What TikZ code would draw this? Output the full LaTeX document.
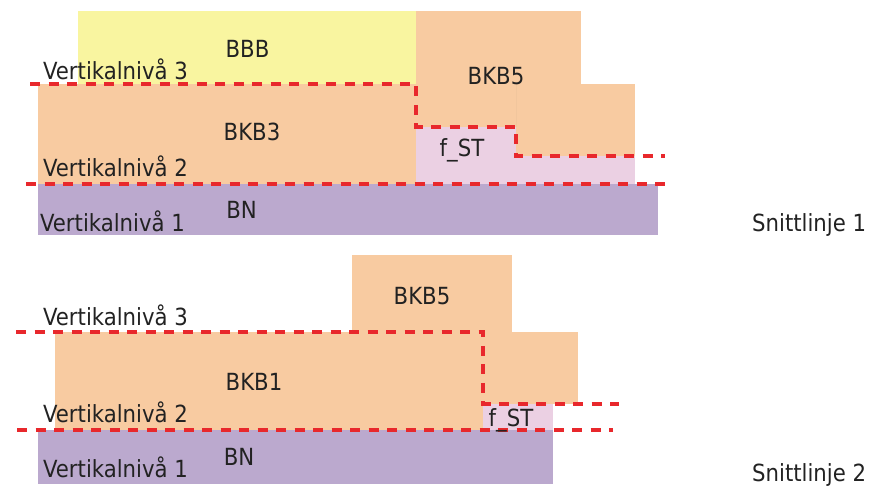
\documentclass[tikz,border=0pt]{standalone}
\usepackage{fontspec}
\setmainfont{DejaVu Sans Condensed}
\definecolor{fillyellow}{RGB}{249,245,160}
\definecolor{fillorange}{RGB}{248,203,161}
\definecolor{fillpurple}{RGB}{187,169,206}
\definecolor{fillpink}{RGB}{235,208,227}
\definecolor{cutred}{RGB}{232,40,44}
\definecolor{txtgray}{RGB}{34,34,34}
\begin{document}
\begin{tikzpicture}[x=1pt,y=-1pt,
  lbl/.style={inner sep=0pt, text=txtgray, font=\fontsize{23.6}{28}\selectfont},
  lvl/.style={lbl, anchor=base west},
  blk/.style={lbl, anchor=base},
  cut/.style={draw=cutred, line width=3.2pt, dash pattern=on 10pt off 8.5pt, line join=miter},
]
\useasboundingbox (0,0) rectangle (871,486);

% ---------- Snittlinje 1 ----------
\fill[fillpink]   (416,127) rectangle (635,184);
\fill[fillyellow] (78,11)   rectangle (416,84);
\fill[fillorange] (516,84)  rectangle (635,156);
\fill[fillorange] (416,11)  rectangle (581,127);
\draw[fillorange!92!black, line width=0.4pt, opacity=0.3] (516,84) -- (516,127);
\fill[fillorange] (38,84)   rectangle (416,184);
\fill[fillpurple] (38,184)  rectangle (658,235);

\draw[cut] (30,84) -- (416,84) -- (416,127) -- (516,127) -- (516,156) -- (665,156);
\draw[cut] (26,184) -- (665,184);

\node[blk] (bbb)   at (247.5,57.5) {BBB};
\node[blk] (bkb5a) at (496,85)   {BKB5};
\node[blk] (bkb3)  at (252,141)  {BKB3};
\node[blk] (fsta)  at (462,157)  {f\_ST};
\node[blk] (bna)   at (241.5,219){BN};
\node[lvl] (v3a)   at (43,80)    {Vertikalnivå 3};
\node[lvl] (v2a)   at (43,177)   {Vertikalnivå 2};
\node[lvl] (v1a)   at (40,232)   {Vertikalnivå 1};
\node[lvl] (snitt1) at (752,232) {Snittlinje 1};

% ---------- Snittlinje 2 ----------
\fill[fillpink]   (483,404) rectangle (553,430);
\fill[fillorange] (483,332) rectangle (578,404);
\fill[fillorange] (352,255) rectangle (512,332);
\fill[fillorange] (55,332)  rectangle (483,430);
\fill[fillpurple] (38,430)  rectangle (553,484);

\draw[cut] (16,332) -- (483,332) -- (483,404) -- (619,404);
\draw[cut] (17,430) -- (613,430);

\node[blk] (bkb5b) at (422,305)  {BKB5};
\node[blk] (bkb1)  at (254,391)  {BKB1};
\node[blk] (fstb)  at (511,427)  {f\_ST};
\node[blk] (bnb)   at (239,465)  {BN};
\node[lvl] (v3b)   at (43,326)   {Vertikalnivå 3};
\node[lvl] (v2b)   at (43,423)   {Vertikalnivå 2};
\node[lvl] (v1b)   at (43,478)   {Vertikalnivå 1};
\node[lvl] (snitt2) at (752,482) {Snittlinje 2};
\end{tikzpicture}
\end{document}
